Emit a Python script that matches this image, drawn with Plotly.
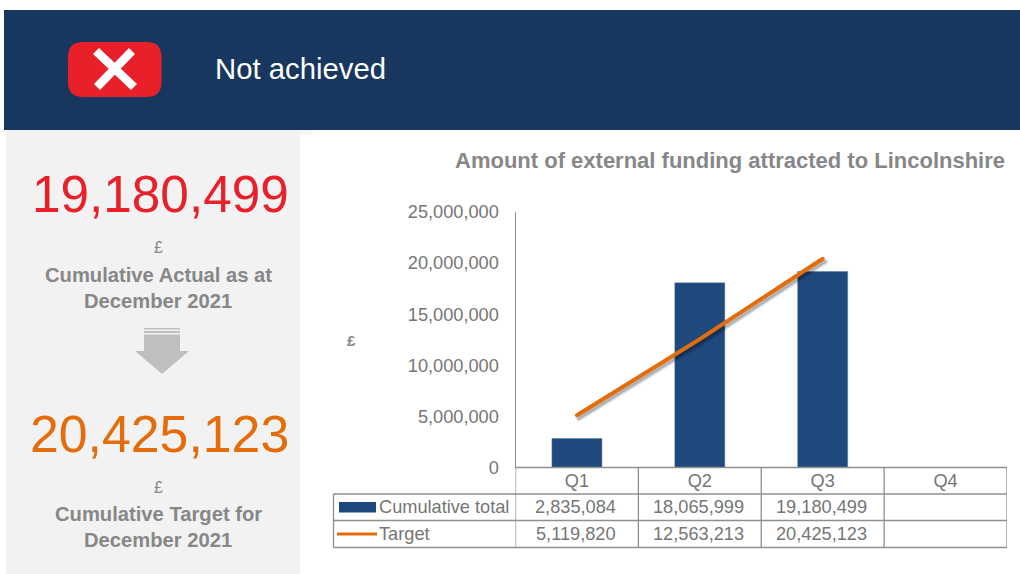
import plotly.graph_objects as go

W, H = 1020, 574
FONT = "Liberation Sans, Arial, sans-serif"
categories = ["Q1", "Q2", "Q3", "Q4"]
cumulative_total = [2835084, 18065999, 19180499, None]
target = [5119820, 12563213, 20425123, None]
total_labels = ["2,835,084", "18,065,999", "19,180,499", ""]
target_labels = ["5,119,820", "12,563,213", "20,425,123", ""]
tick_values = [0, 5000000, 10000000, 15000000, 20000000, 25000000]
chart_title = "Amount of external funding attracted to Lincolnshire"
status_text = "Not achieved"
actual_value = "19,180,499"
target_value = "20,425,123"
actual_caption = ["Cumulative Actual as at", "December 2021"]
target_caption = ["Cumulative Target for", "December 2021"]

NAVY, BAR, ORANGE, RED = "#17375e", "#1f497d", "#e46c0a", "#e7202a"
GREY, TXT, PANEL, LINE = "#878787", "#767676", "#f2f2f2", "#8f8f8f"

def px(v): return v / W
def py(v): return 1 - v / H

L, R, T, B = 515.5, 1007, 212, 467.5
xrange_ = [-0.5, 3.5]
yrange_ = [0, 25000000]

fig = go.Figure()
fig.add_bar(x=categories, y=cumulative_total, width=0.407, marker=dict(color=BAR, line=dict(color="#5d7ea6", width=0.5)),
            name="Cumulative total", xaxis="x", yaxis="y")
for w, op in [(7, 0.06), (5, 0.10), (3, 0.16)]:
    fig.add_scatter(x=categories, y=target, mode="lines", line=dict(color="#000000", width=w), opacity=op,
                    xaxis="x2", yaxis="y2", showlegend=False, hoverinfo="skip")
fig.add_scatter(x=categories, y=target, mode="lines", line=dict(color=ORANGE, width=4), name="Target",
                xaxis="x3", yaxis="y3")

hidden = dict(visible=False, fixedrange=True, automargin=False)
dx, dy = 2, 3
fig.update_layout(
    width=W, height=H, margin=dict(l=0, r=0, t=0, b=0), paper_bgcolor="white", plot_bgcolor="rgba(0,0,0,0)",
    showlegend=False, font=dict(family=FONT, color=TXT),
    xaxis=dict(domain=[px(L), px(R)], range=xrange_, type="category", categoryorder="array", categoryarray=categories,
               showgrid=False, zeroline=False, showline=False, ticks="", automargin=False,
               tickfont=dict(size=18.2, color=TXT, family=FONT), anchor="y"),
    yaxis=dict(domain=[py(B), py(T)], range=yrange_, tickvals=tick_values, tickformat=",", showgrid=False,
               zeroline=False, showline=True, linecolor=LINE, linewidth=1, ticks="outside", ticklen=12,
               automargin=False, tickcolor="rgba(0,0,0,0)", tickfont=dict(size=18.2, color=TXT, family=FONT), anchor="x"),
    xaxis2=dict(domain=[px(L + dx), px(R + dx)], range=xrange_, type="category", categoryarray=categories, anchor="y2", **hidden),
    yaxis2=dict(domain=[py(B + dy), py(T + dy)], range=yrange_, anchor="x2", **hidden),
    xaxis3=dict(domain=[px(L), px(R)], range=xrange_, type="category", categoryarray=categories, anchor="y3", **hidden),
    yaxis3=dict(domain=[py(B), py(T)], range=yrange_, anchor="x3", **hidden),
)

def rect(x0, y0, x1, y1, color):
    fig.add_shape(type="rect", xref="paper", yref="paper", x0=px(x0), x1=px(x1), y0=py(y0), y1=py(y1),
                  fillcolor=color, line_width=0, layer="below")

def path(d, color):
    fig.add_shape(type="path", xref="paper", yref="paper", path=d, fillcolor=color, line_width=0, layer="below")

def poly(points):
    return "M " + " L ".join(f"{px(x)},{py(y)}" for x, y in points) + " Z"

def text(x, y, s, size, color, bold=False, anchor="center", xref="paper", xshift=0):
    s2 = f"<b>{s}</b>" if bold else s
    fig.add_annotation(xref=xref, yref="paper", x=x if xref != "paper" else px(x), y=py(y), text=s2, showarrow=False,
                       xanchor=anchor, yanchor="middle", xshift=xshift, font=dict(size=size, color=color, family=FONT))

# header
rect(4, 10, 1020, 130, NAVY)
rect(6, 130, 312, 135, "#f5f5f5")
rect(6, 130, 300, 574, PANEL)
# icon
x0, x1, y0, y1, r = 68, 161.5, 42, 97, 15
rd = (f"M {px(x0+r)},{py(y0)} L {px(x1-r)},{py(y0)} Q {px(x1)},{py(y0)} {px(x1)},{py(y0+r)} "
      f"L {px(x1)},{py(y1-r)} Q {px(x1)},{py(y1)} {px(x1-r)},{py(y1)} L {px(x0+r)},{py(y1)} "
      f"Q {px(x0)},{py(y1)} {px(x0)},{py(y1-r)} L {px(x0)},{py(y0+r)} Q {px(x0)},{py(y0)} {px(x0+r)},{py(y0)} Z")
path(rd, RED)
path(poly([(93, 54), (99, 48), (137, 84), (131, 90)]), "white")
path(poly([(129, 48), (135, 54), (100, 90), (94, 84)]), "white")
text(213, 68.5, status_text, 29.3, "white", anchor="left")

# panel text
text(160, 194, actual_value, 51.3, RED)
text(158, 247, "£", 16, GREY)
text(158, 275, actual_caption[0], 20.2, GREY, bold=True)
text(158, 301, actual_caption[1], 20.2, GREY, bold=True)
rect(144, 328, 180, 329.5, "#bfbfbf")
rect(144, 331, 180, 333, "#bfbfbf")
rect(144, 334.5, 180, 351, "#bfbfbf")
path(poly([(135, 351), (189, 351), (162, 374)]), "#bfbfbf")
text(159, 434, target_value, 51.8, ORANGE)
text(158, 487, "£", 16, GREY)
text(158, 514, target_caption[0], 20.2, GREY, bold=True)
text(158, 540, target_caption[1], 20.2, GREY, bold=True)

# chart title
text(730, 160.5, chart_title, 22, GREY, bold=True)
text(351, 340, "£", 15, GREY, bold=True)

# data table
rows = [B, 494, 520.5, 547.5]
for y in rows:
    fig.add_shape(type="line", xref="paper", yref="paper", x0=px(L if y == B else 333.5), x1=px(R),
                  y0=py(y), y1=py(y), line=dict(color=LINE, width=1.3))
fig.add_shape(type="line", xref="paper", yref="paper", x0=px(333.5), x1=px(333.5), y0=py(rows[1]), y1=py(rows[3]),
              line=dict(color=LINE, width=1.3))
for i in range(len(categories) + 1):
    fig.add_shape(type="line", xref="x", yref="paper", x0=i - 0.5, x1=i - 0.5, y0=py(B), y1=py(rows[3]),
                  line=dict(color=LINE, width=1.3))
for i, c in enumerate(categories):
    if total_labels[i]:
        text(c, 507, total_labels[i], 18.2, TXT, xref="x", xshift=-1)
    if target_labels[i]:
        text(c, 533.5, target_labels[i], 18.2, TXT, xref="x", xshift=-1)
rect(339, 502, 376, 512.5, BAR)
fig.add_shape(type="line", xref="paper", yref="paper", x0=px(337), x1=px(377), y0=py(534), y1=py(534),
              line=dict(color=ORANGE, width=3))
text(376.5, 506.5, "Cumulative total", 18.2, TXT, anchor="left")
text(376.5, 533.5, "Target", 18.2, TXT, anchor="left")

fig.write_html("out.html", config=dict(displayModeBar=False),
               post_script="document.body.style.margin='0';document.body.style.overflow='hidden';"
                           "document.querySelectorAll('.js-line').forEach(function(e){e.style.strokeLinecap='round';});")
